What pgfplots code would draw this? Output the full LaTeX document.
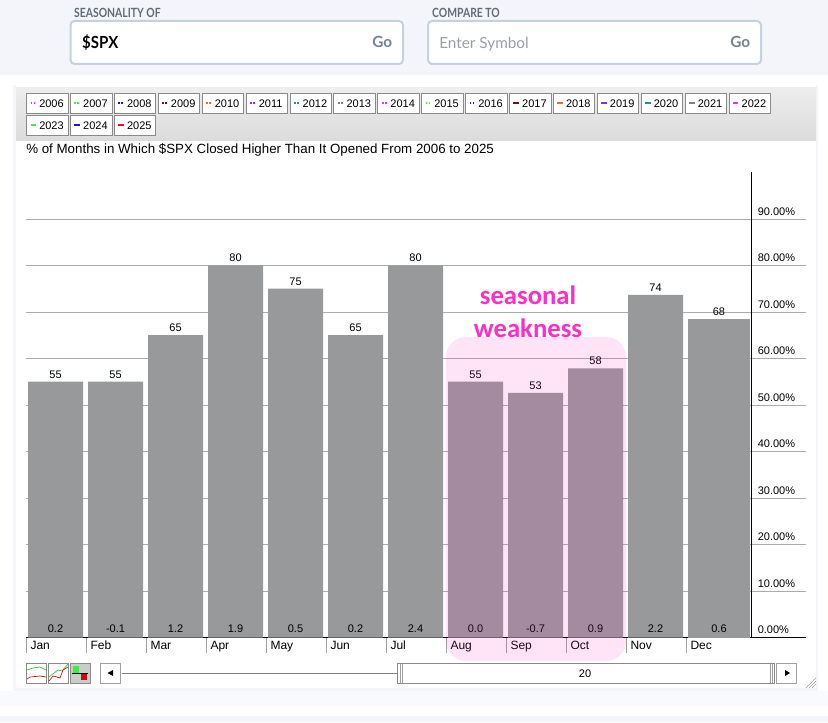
\documentclass[border=0pt]{standalone}
\usepackage{pgfplots}
\pgfplotsset{compat=1.18}
\usepackage{fontspec}
\setmainfont{Liberation Sans}
\newfontfamily\lato{Lato}
\newfontfamily\carlito{Carlito}
\definecolor{pagebg}{HTML}{F3F5FA}
\definecolor{pagebgb}{HTML}{F9FAFE}
\definecolor{boxb}{HTML}{C5D1DE}
\definecolor{labg}{HTML}{5F6B78}
\definecolor{gogray}{HTML}{76828F}
\definecolor{phgray}{HTML}{9A9FA5}
\definecolor{bar}{HTML}{98999B}
\definecolor{gridc}{HTML}{ABABAB}
\definecolor{tickc}{HTML}{A0A0A0}
\definecolor{hotpink}{HTML}{FF2DC8}
\definecolor{btn}{HTML}{8A8A8A}
\definecolor{lm}{HTML}{F02BF0}
\definecolor{lg}{HTML}{3CF03C}
\definecolor{lb}{HTML}{2A10C8}
\definecolor{ld}{HTML}{7A0A10}
\definecolor{lo}{HTML}{EE6A22}
\definecolor{lp}{HTML}{8A2BF0}
\definecolor{lt}{HTML}{2E8C8C}
\definecolor{ly}{HTML}{808080}
\definecolor{lr}{HTML}{F01010}
\begin{document}
\begin{tikzpicture}
\begin{scope}[x=0.75pt,y=-0.75pt,shift={(0,541.5pt)}]
\path[use as bounding box] (0,0) rectangle (828,722);
\fill[white] (0,0) rectangle (828,722);
\fill[pagebg] (0,0) rectangle (828,75);
\fill[pagebg] (0,716) rectangle (828,722);
\fill[pagebgb] (0,691) rectangle (828,706);
\fill[pagebg] (13,85) rectangle (818,691);
\fill[white] (16,85) rectangle (816,688);
\shade[top color=white!93!black,bottom color=white!86!black] (16,88) rectangle (816,141);
% search boxes
\draw[boxb,line width=1.5pt,fill=white,rounded corners=3pt] (70.5,21) rectangle (403,64);
\draw[boxb,line width=1.5pt,fill=white,rounded corners=3pt] (428,21) rectangle (761,64);
\node[anchor=west,inner sep=0pt,text=labg,xscale=0.82] at (74,13) {\lato\bfseries\fontsize{9.5pt}{10pt}\selectfont SEASONALITY OF};
\node[anchor=west,inner sep=0pt,text=labg,xscale=0.82] at (432,13) {\lato\bfseries\fontsize{9.5pt}{10pt}\selectfont COMPARE TO};
\node[anchor=west,inner sep=0pt,xscale=0.9] at (82,43) {\lato\bfseries\fontsize{12.5pt}{13pt}\selectfont \$SPX};
\node[anchor=west,inner sep=0pt,text=gogray] at (372,42) {\lato\bfseries\fontsize{11.5pt}{12pt}\selectfont Go};
\node[anchor=west,inner sep=0pt,text=gogray] at (730,42) {\lato\bfseries\fontsize{11.5pt}{12pt}\selectfont Go};
\node[anchor=west,inner sep=0pt,text=phgray] at (439,44) {\lato\fontsize{11.5pt}{12pt}\selectfont Enter Symbol};
% legend buttons
\foreach \yr/\col/\ds [count=\i from 0] in {2006/lm/0,2007/lg/0,2008/lb/0,2009/ld/0,2010/lo/0,2011/lp/0,2012/lt/0,2013/ly/0,2014/lm/0,2015/lg/0,2016/lb/0,2017/ld/1,2018/lo/1,2019/lp/1,2020/lt/1,2021/ly/1,2022/lm/1,2023/lg/1,2024/lb/1,2025/lr/1}{
  \pgfmathtruncatemacro{\row}{\i>16 ? 1 : 0}
  \pgfmathsetmacro{\bx}{26.5+43.9*(\i-17*\row)}
  \pgfmathsetmacro{\by}{93.5+22*\row}
  \begin{scope}[shift={(\bx,\by)}]
  \draw[btn,fill=white,line width=0.6pt] (0,0) rectangle (41.5,20);
  \ifnum\ds=0
    \fill[\col] (4,9) rectangle (5.8,11);
    \fill[\col] (7,9) rectangle (8.8,11);
  \else
    \fill[\col] (4,9) rectangle (9.5,11);
  \fi
  \node[anchor=west,inner sep=0pt] at (12.5,10) {\fontsize{8.25pt}{9pt}\selectfont \yr};
  \end{scope}
}
\node[anchor=west,inner sep=0pt] at (26,150) {\fontsize{10pt}{11pt}\selectfont \% of Months in Which \$SPX Closed Higher Than It Opened From 2006 to 2025};
\end{scope}
\begin{axis}[
  at={(19.5pt,63.375pt)},anchor=south west,
  scale only axis,width=585pt,height=349.1pt,
  xmin=-0.4917,xmax=12.5083,ymin=0,ymax=100.1,
  axis x line=bottom,axis y line=right,
  axis line style={-},
  x axis line style={black,line width=0.75pt},
  y axis line style={draw=none},
  ytick={0,10,...,90},
  yticklabels={0.00\%,10.00\%,20.00\%,30.00\%,40.00\%,50.00\%,60.00\%,70.00\%,80.00\%,90.00\%},
  ymajorgrids,
  grid style={gridc,line width=0.6pt},
  ytick style={draw=none},
  yticklabel style={anchor=west,xshift=-42pt,yshift=5.8pt,font=\fontsize{8.25pt}{9pt}\selectfont,inner sep=0pt},
  xtick={-0.4833,0.5167,1.5167,2.5167,3.5167,4.5167,5.5167,6.5167,7.5167,8.5167,9.5167,10.5167},
  xticklabels={Jan,Feb,Mar,Apr,May,Jun,Jul,Aug,Sep,Oct,Nov,Dec},
  xtick align=outside,
  major tick length=11.25pt,
  x tick style={tickc,line width=0.6pt},
  xticklabel style={anchor=base west,xshift=2.8pt,yshift=2.6pt,font=\fontsize{9pt}{10pt}\selectfont,inner sep=0pt},
  clip=false,
  point meta=explicit symbolic,
  nodes near coords style={font=\fontsize{8.25pt}{9pt}\selectfont,inner sep=1pt,anchor=south,yshift=1.5pt},
]
\addplot[ybar,bar width=41.25pt,bar shift=0pt,fill=bar,draw=none,nodes near coords,forget plot] coordinates {
 (0,55)[55] (1,55)[55] (2,65)[65] (3,80)[80] (4,75)[75] (5,65)[65]
 (6,80)[80] (7,55)[55] (8,52.6)[53] (9,57.9)[58] (10,73.7)[74]};
\addplot[ybar,bar width=46.5pt,bar shift=0pt,fill=bar,draw=none,nodes near coords,forget plot] coordinates {(11.058,68.4)[68]};
\addplot[black,line width=0.75pt,forget plot] coordinates {(11.608,0)(11.608,100.1)};
\addplot[draw=none,mark=none,forget plot,nodes near coords,nodes near coords style={anchor=base,yshift=2pt}] coordinates {
 (0,0)[0.2] (1,0)[-0.1] (2,0)[1.2] (3,0)[1.9] (4,0)[0.5] (5,0)[0.2]
 (6,0)[2.4] (7,0)[0.0] (8,0)[-0.7] (9,0)[0.9] (10,0)[2.2] (11.058,0)[0.6]};
\end{axis}
\begin{scope}[x=0.75pt,y=-0.75pt,shift={(0,541.5pt)}]
\fill[hotpink,fill opacity=0.13,rounded corners=15pt] (446,337) rectangle (626,661);
\node[text=hotpink,inner sep=0pt] at (528,295) {\carlito\bfseries\fontsize{20pt}{20pt}\selectfont seasonal};
\node[text=hotpink,inner sep=0pt] at (528,328) {\carlito\bfseries\fontsize{20pt}{20pt}\selectfont weakness};
% controls
\draw[btn,fill=white,line width=0.6pt] (26.5,663.5) rectangle (46.5,683.5);
\draw[lg!80!black,line width=0.5pt] (27,670) -- (33,668) -- (40,667) -- (46,670);
\draw[lr!80!black,line width=0.5pt] (27,679) -- (30,677) -- (40,676) -- (46,677);
\draw[btn,fill=white,line width=0.6pt] (48.5,663.5) rectangle (68.5,683.5);
\draw[lg!80!black,line width=0.5pt] (49,677) -- (54,673) -- (58,670) -- (62,671) -- (68,664);
\draw[lr!80!black,line width=0.5pt] (49,681) -- (53,676) -- (57,677) -- (60,678) -- (63,670) -- (68,667);
\draw[btn,fill=gray!40,line width=0.6pt] (70.5,663.5) rectangle (90.5,683.5);
\fill[lg] (73,666) rectangle (79,673);
\fill[lr!80!black] (81,674) rectangle (87,680);
\draw[black,line width=0.6pt] (72,673.5) -- (88,673.5);
\draw[tickc,fill=white,line width=0.6pt] (100.5,663.5) rectangle (120.5,683.5);
\fill[black] (107.5,673) -- (113,670) -- (113,676) -- cycle;
\draw[gray,line width=0.6pt] (122,673.5) -- (398,673.5);
\draw[btn,fill=white,line width=0.6pt] (397.5,663.5) rectangle (774.5,683.5);
\draw[tickc,line width=0.4pt] (400,664) -- (400,683) (402,664) -- (402,683) (770,664) -- (770,683) (772,664) -- (772,683);
\node[inner sep=0pt] at (585,673.5) {\fontsize{8.25pt}{9pt}\selectfont 20};
\draw[tickc,fill=white,line width=0.6pt] (776.5,663.5) rectangle (796.5,683.5);
\fill[black] (790,673) -- (785,670) -- (785,676) -- cycle;
\draw[tickc,line width=0.4pt] (806,688) -- (816,678) (809,688) -- (816,681) (812,688) -- (816,684);
\end{scope}
\end{tikzpicture}
\end{document}
